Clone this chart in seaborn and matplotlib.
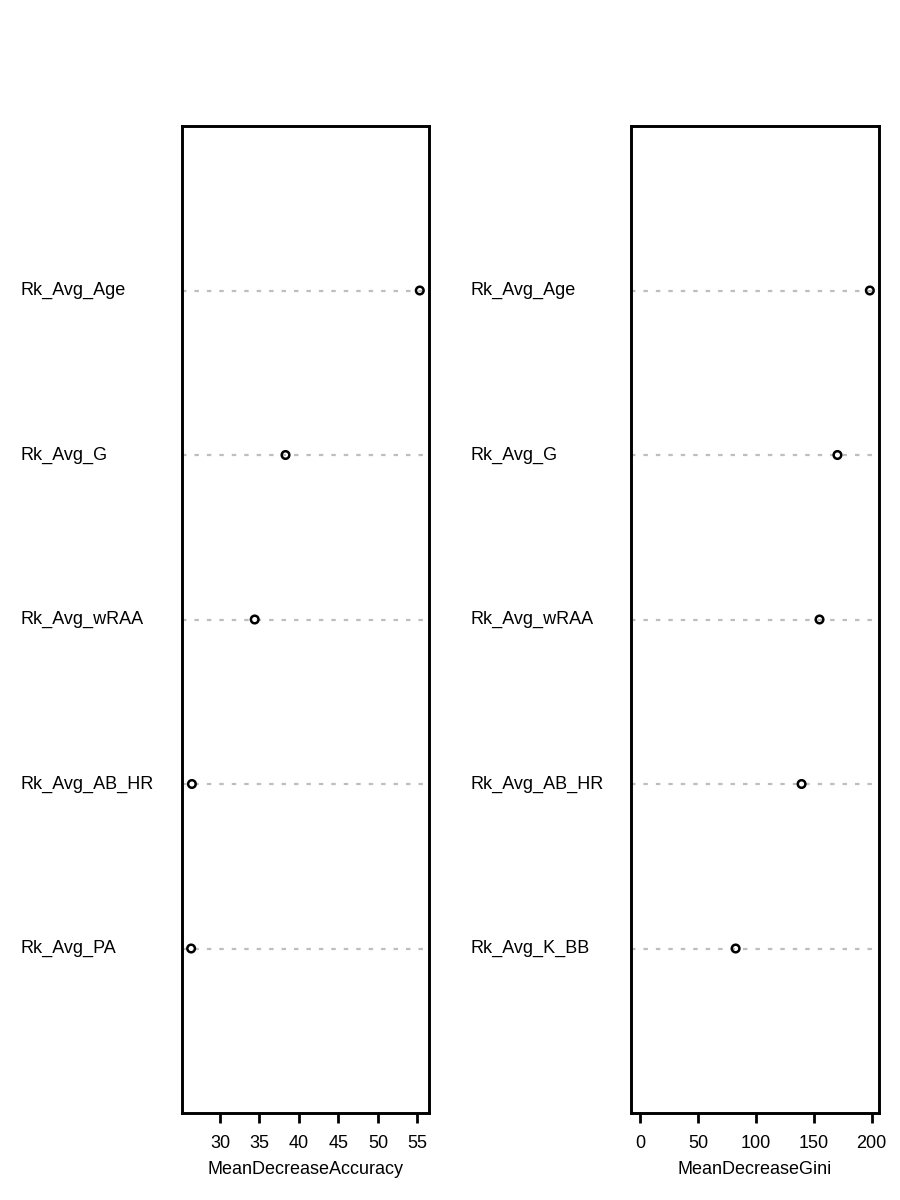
import matplotlib
matplotlib.use('Agg')
import matplotlib.pyplot as plt
import matplotlib.transforms as mtransforms
import pandas as pd
import seaborn as sns

# Variable importance values
acc_vars = ['Rk_Avg_Age', 'Rk_Avg_G', 'Rk_Avg_wRAA', 'Rk_Avg_AB_HR', 'Rk_Avg_PA']
acc_vals = [55.3, 38.3, 34.4, 26.45, 26.35]

gini_vars = ['Rk_Avg_Age', 'Rk_Avg_G', 'Rk_Avg_wRAA', 'Rk_Avg_AB_HR', 'Rk_Avg_K_BB']
gini_vals = [198.5, 170.5, 155.0, 139.5, 82.5]

acc_ticks = [30, 35, 40, 45, 50, 55]
gini_ticks = [0, 50, 100, 150, 200]

sns.set_style('white')
plt.rcParams['font.family'] = ['Liberation Sans', 'DejaVu Sans']
plt.rcParams['text.color'] = 'black'
plt.rcParams['axes.labelcolor'] = 'black'
plt.rcParams['xtick.color'] = 'black'

fig = plt.figure(figsize=(9, 12), dpi=100)
ax1 = fig.add_axes([0.2022, 0.0725, 0.2744, 0.8225])
ax2 = fig.add_axes([0.7011, 0.0725, 0.2756, 0.8225])


def dot_panel(ax, names, vals, ticks, xlabel, from_zero, label_x):
    n = len(names)
    df = pd.DataFrame({'var': names, 'val': vals, 'pos': list(range(n, 0, -1))})
    # dotted guide lines, like R's dotchart
    for p in df['pos']:
        ax.axhline(p, color='#BEBEBE', lw=1.6, ls=(0, (2.0, 3.6)), zorder=1)
    sns.scatterplot(data=df, x='val', y='pos', ax=ax, marker='o', s=30,
                    facecolor='none', edgecolor='black', linewidth=1.8, zorder=3)
    lo = 0 if from_zero else min(vals)
    hi = max(vals)
    pad = 0.04 * (hi - lo)
    ax.set_xlim(lo - pad, hi + pad)
    ax.set_ylim(0, n + 1)
    ax.set_yticks([])
    ax.set_ylabel('')
    ax.set_xticks(ticks)
    ax.set_xticklabels([str(t) for t in ticks], fontsize=13)
    ax.tick_params(axis='x', bottom=True, length=7.5, width=2, pad=8, color='black')
    ax.set_xlabel(xlabel, fontsize=13, labelpad=7)
    for sp in ax.spines.values():
        sp.set_visible(True)
        sp.set_linewidth(2.1)
        sp.set_color('black')
    trans = mtransforms.blended_transform_factory(fig.transFigure, ax.transData)
    for name, p in zip(df['var'], df['pos']):
        fig.text(label_x, p, name, transform=trans, ha='left', va='center',
                 fontsize=13, color='black')


dot_panel(ax1, acc_vars, acc_vals, acc_ticks, 'MeanDecreaseAccuracy', False, 20 / 900)
dot_panel(ax2, gini_vars, gini_vals, gini_ticks, 'MeanDecreaseGini', True, 470 / 900)

fig.savefig('out.png', dpi=100)
